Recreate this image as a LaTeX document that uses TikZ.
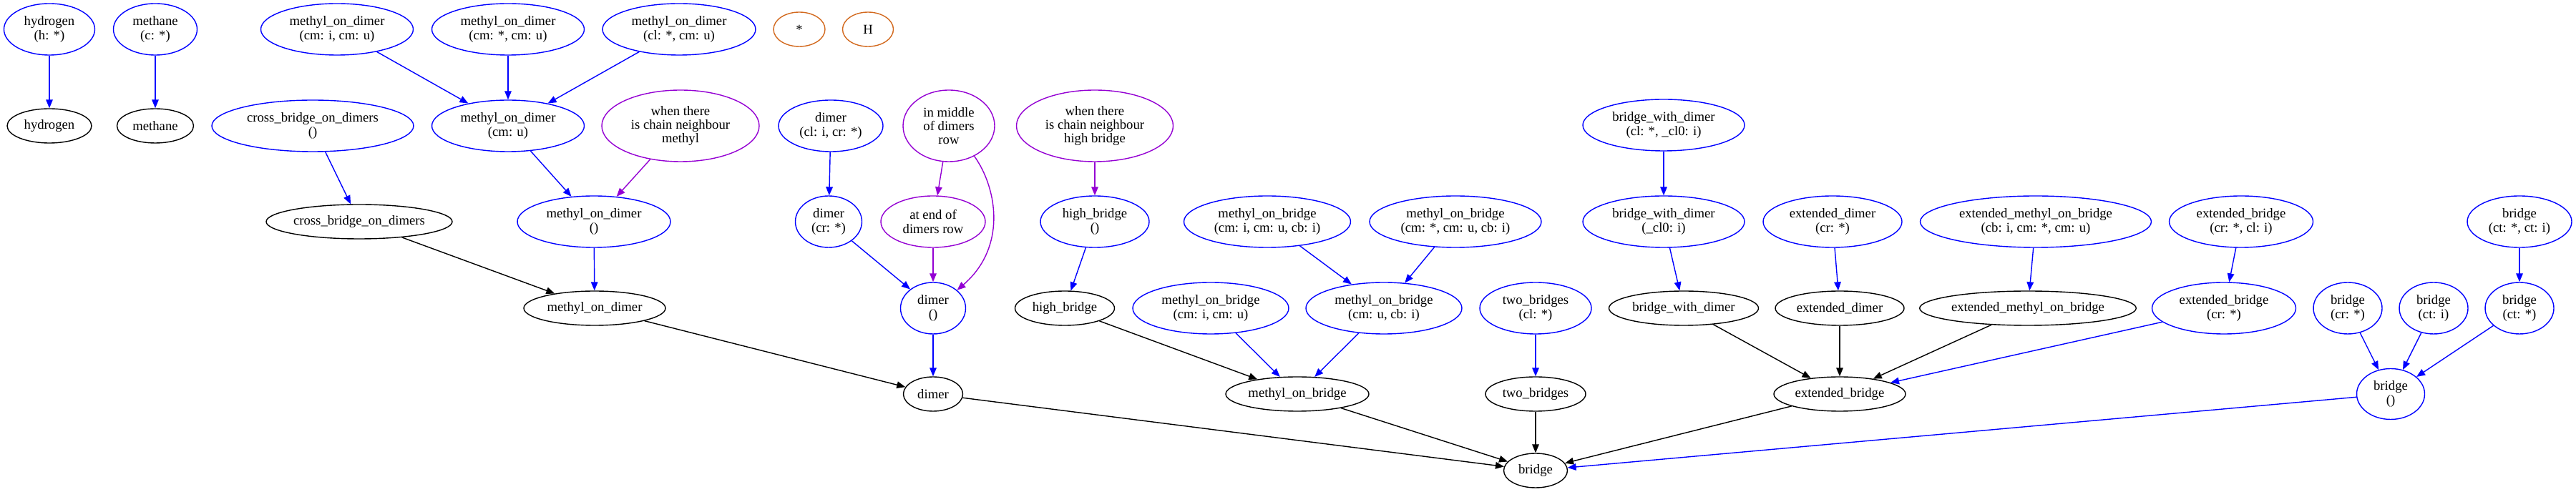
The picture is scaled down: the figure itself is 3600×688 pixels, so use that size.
\documentclass[tikz,border=0pt]{standalone}
\usepackage{fontspec}
\setmainfont{Liberation Serif}
\usetikzlibrary{shapes.geometric,arrows.meta}
\definecolor{gvblue}{RGB}{0,0,255}
\definecolor{gvpurple}{RGB}{148,0,211}
\definecolor{gvorange}{RGB}{210,105,30}
\tikzset{
  nd/.style={ellipse, draw, line width=0.7pt, inner sep=0pt, align=center, text=black,
             font=\fontsize{9.35}{9.65}\selectfont},
  bl/.style={nd, draw=gvblue},
  bk/.style={nd, draw=black},
  pu/.style={nd, draw=gvpurple},
  orn/.style={nd, draw=gvorange},
  sz/.style 2 args={minimum width=#1*0.5pt, minimum height=#2*0.5pt},
  ed/.style={-{Triangle[length=6pt,width=4.8pt]}, line width=0.7pt},
  eblue/.style={ed, color=gvblue},
  eblack/.style={ed, color=black},
  epurple/.style={ed, color=gvpurple}
}
\begin{document}
\begin{tikzpicture}[x=0.5pt,y=-0.5pt]
\useasboundingbox (0,0) rectangle (3600,688);
% row A
\node[bl, sz={127}{72}] (hT) at (69,41) {hydrogen\\(h: *)};
\node[bl, sz={117}{72}] (mT) at (217,41) {methane\\(c: *)};
\node[bl, sz={213}{72}] (md1) at (471,41) {methyl\_on\_dimer\\(cm: i, cm: u)};
\node[bl, sz={213}{72}] (md2) at (710,41) {methyl\_on\_dimer\\(cm: *, cm: u)};
\node[bl, sz={214}{72}] (md3) at (949,41) {methyl\_on\_dimer\\(cl: *, cm: u)};
\node[orn, sz={72}{48}] (star) at (1117,41) {*};
\node[orn, sz={71}{48}] (Hn) at (1213,41) {H};
% row B
\node[bk, sz={118}{48}] (h) at (69,176) {hydrogen};
\node[bk, sz={107}{48}] (m) at (217,176) {methane};
\node[bl, sz={282}{72}] (cbdE) at (437,176) {cross\_bridge\_on\_dimers\\()};
\node[bl, sz={213}{72}] (mdU) at (710,176) {methyl\_on\_dimer\\(cm: u)};
\node[pu, sz={220}{100}] (wMe) at (951,176) {when there\\is chain neighbour\\methyl};
\node[bl, sz={146}{72}] (dLR) at (1161,176) {dimer\\(cl: i, cr: *)};
\node[pu, sz={128}{100}] (mid) at (1326,176) {in middle\\of dimers\\row};
\node[pu, sz={219}{100}] (wHB) at (1530,176) {when there\\is chain neighbour\\high bridge};
\node[bl, sz={226}{72}] (bwdA) at (2325,175) {bridge\_with\_dimer\\(cl: *, \_cl0: i)};
% row C
\node[bk, sz={259}{48}] (cbd) at (502,310) {cross\_bridge\_on\_dimers};
\node[bl, sz={214}{72}] (mdE) at (830,310) {methyl\_on\_dimer\\()};
\node[bl, sz={93}{72}] (dR) at (1158,310) {dimer\\(cr: *)};
\node[pu, sz={146}{72}] (endr) at (1304,310) {at end of\\dimers row};
\node[bl, sz={152}{72}] (hbE) at (1530,310) {high\_bridge\\()};
\node[bl, sz={233}{72}] (mb1) at (1771,310) {methyl\_on\_bridge\\(cm: i, cm: u, cb: i)};
\node[bl, sz={240}{72}] (mb2) at (2034,310) {methyl\_on\_bridge\\(cm: *, cm: u, cb: i)};
\node[bl, sz={226}{72}] (bwdB) at (2325,310) {bridge\_with\_dimer\\(\_cl0: i)};
\node[bl, sz={194}{72}] (edR) at (2561,310) {extended\_dimer\\(cr: *)};
\node[bl, sz={323}{72}] (emb) at (2845,310) {extended\_methyl\_on\_bridge\\(cb: i, cm: *, cm: u)};
\node[bl, sz={201}{72}] (ebA) at (3132,310) {extended\_bridge\\(cr: *, cl: i)};
\node[bl, sz={146}{72}] (brA) at (3521,310) {bridge\\(ct: *, ct: i)};
% row D
\node[bk, sz={198}{48}] (md) at (831,431) {methyl\_on\_dimer};
\node[bl, sz={91}{72}] (dE) at (1304,431) {dimer\\()};
\node[bk, sz={139}{48}] (hb) at (1488,431) {high\_bridge};
\node[bl, sz={218}{72}] (mb3) at (1692,431) {methyl\_on\_bridge\\(cm: i, cm: u)};
\node[bl, sz={218}{72}] (mb4) at (1934,431) {methyl\_on\_bridge\\(cm: u, cb: i)};
\node[bl, sz={156}{72}] (tbE) at (2146,431) {two\_bridges\\(cl: *)};
\node[bk, sz={209}{48}] (bwd) at (2353,431) {bridge\_with\_dimer};
\node[bk, sz={180}{48}] (edb) at (2571,431) {extended\_dimer};
\node[bk, sz={296}{48}] (emb2) at (2834,431) {extended\_methyl\_on\_bridge};
\node[bl, sz={201}{72}] (ebB) at (3108,431) {extended\_bridge\\(cr: *)};
\node[bl, sz={96}{72}] (brB) at (3281,431) {bridge\\(cr: *)};
\node[bl, sz={96}{72}] (brC) at (3401,431) {bridge\\(ct: i)};
\node[bl, sz={96}{72}] (brD) at (3521,431) {bridge\\(ct: *)};
% row E
\node[bk, sz={83}{48}] (d) at (1304,551) {dimer};
\node[bk, sz={200}{48}] (mb) at (1813,551) {methyl\_on\_bridge};
\node[bk, sz={140}{48}] (tb) at (2146,551) {two\_bridges};
\node[bk, sz={184}{48}] (eb) at (2571,551) {extended\_bridge};
\node[bl, sz={95}{71}] (brE) at (3341,551) {bridge\\()};
% row F
\node[bk, sz={89}{48}] (br) at (2146,658) {bridge};
% edges
\draw[eblue] (hT) -- (h);
\draw[eblue] (mT) -- (m);
\draw[eblue] (md1) -- (mdU);
\draw[eblue] (md2) -- (mdU);
\draw[eblue] (md3) -- (mdU);
\draw[eblue] (cbdE) -- (cbd);
\draw[eblue] (mdU) -- (mdE);
\draw[epurple] (wMe) -- (mdE);
\draw[eblack] (cbd) -- (md);
\draw[eblue] (mdE) -- (md);
\draw[eblack] (md) -- (d);
\draw[eblue] (dLR) -- (dR);
\draw[eblue] (dR) -- (dE);
\draw[epurple] (mid) -- (endr);
\draw[epurple] (mid.-50) .. controls (1393,262) and (1408,345) .. (dE.37);
\draw[epurple] (endr) -- (dE);
\draw[eblue] (dE) -- (d);
\draw[epurple] (wHB) -- (hbE);
\draw[eblue] (hbE) -- (hb);
\draw[eblack] (hb) -- (mb);
\draw[eblue] (mb1) -- (mb4);
\draw[eblue] (mb2) -- (mb4);
\draw[eblue] (mb3) -- (mb);
\draw[eblue] (mb4) -- (mb);
\draw[eblue] (tbE) -- (tb);
\draw[eblue] (bwdA) -- (bwdB);
\draw[eblue] (bwdB) -- (bwd);
\draw[eblue] (edR) -- (edb);
\draw[eblue] (emb) -- (emb2);
\draw[eblue] (ebA) -- (ebB);
\draw[eblack] (bwd) -- (eb);
\draw[eblack] (edb) -- (eb);
\draw[eblack] (emb2) -- (eb);
\draw[eblue] (ebB) -- (eb);
\draw[eblue] (brA) -- (brD);
\draw[eblue] (brB) -- (brE);
\draw[eblue] (brC) -- (brE);
\draw[eblue] (brD) -- (brE);
\draw[eblack] (d) -- (br);
\draw[eblack] (mb) -- (br);
\draw[eblack] (tb) -- (br);
\draw[eblack] (eb) -- (br);
\draw[eblue] (brE) -- (br);
\end{tikzpicture}
\end{document}
